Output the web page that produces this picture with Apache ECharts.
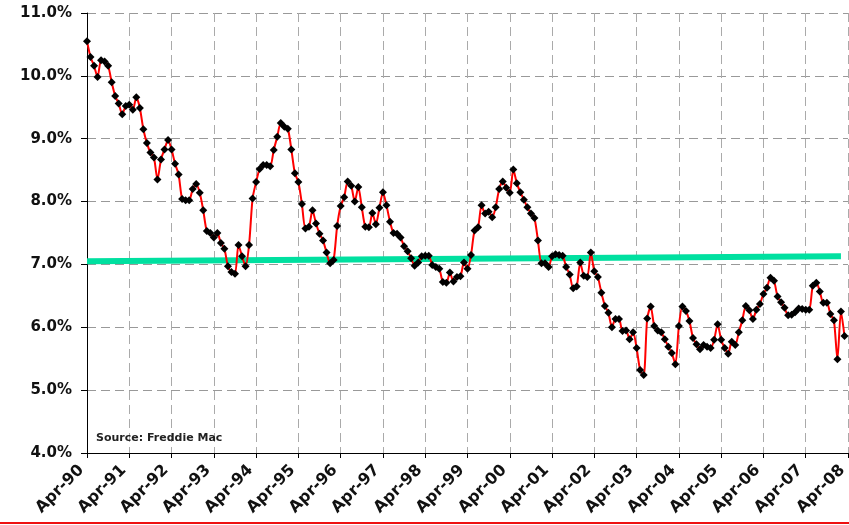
<!DOCTYPE html>
<html lang="en">
<head>
    <meta charset="UTF-8">
    <title>Mortgage rates</title>
    <script src="https://cdn.jsdelivr.net/npm/echarts@6/dist/echarts.min.js"></script>
</head>
<style type="text/css">
    html,body,#chart{
        width: 849px;
        height: 525px;
        margin: 0;
        padding: 0;
        background: #fff;
    }
</style>
<body>
<div id="chart"></div>
<script>
    // monthly rate, Apr-90 .. Mar-08 (%)
    var rates = [
        10.55, 10.30, 10.16, 9.98, 10.25, 10.23, 10.16, 9.90, 9.68, 9.56, 9.39, 9.52,
        9.54, 9.46, 9.66, 9.49, 9.15, 8.93, 8.78, 8.70, 8.35, 8.67, 8.83, 8.98,
        8.83, 8.60, 8.43, 8.04, 8.02, 8.02, 8.20, 8.28, 8.14, 7.86, 7.53, 7.50,
        7.43, 7.50, 7.34, 7.25, 6.97, 6.88, 6.85, 7.31, 7.13, 6.97, 7.31, 8.05,
        8.31, 8.52, 8.58, 8.58, 8.56, 8.82, 9.03, 9.25, 9.19, 9.16, 8.83, 8.45,
        8.31, 7.96, 7.57, 7.60, 7.86, 7.65, 7.49, 7.38, 7.19, 7.02, 7.07, 7.61,
        7.93, 8.07, 8.32, 8.25, 8.00, 8.23, 7.91, 7.60, 7.59, 7.82, 7.64, 7.90,
        8.15, 7.94, 7.68, 7.50, 7.49, 7.43, 7.29, 7.21, 7.10, 6.98, 7.03, 7.13,
        7.14, 7.14, 6.99, 6.96, 6.93, 6.72, 6.71, 6.87, 6.73, 6.80, 6.81, 7.03,
        6.93, 7.15, 7.54, 7.59, 7.94, 7.81, 7.84, 7.75, 7.91, 8.20, 8.32, 8.22,
        8.14, 8.51, 8.29, 8.15, 8.03, 7.91, 7.81, 7.74, 7.38, 7.02, 7.02, 6.96,
        7.13, 7.16, 7.15, 7.14, 6.96, 6.84, 6.62, 6.65, 7.03, 6.82, 6.80, 7.19,
        6.89, 6.80, 6.55, 6.34, 6.23, 6.00, 6.13, 6.13, 5.94, 5.95, 5.81, 5.92,
        5.67, 5.32, 5.24, 6.14, 6.33, 6.02, 5.95, 5.92, 5.81, 5.69, 5.59, 5.41,
        6.02, 6.33, 6.26, 6.10, 5.83, 5.73, 5.65, 5.72, 5.69, 5.67, 5.80, 6.05,
        5.80, 5.67, 5.58, 5.77, 5.72, 5.92, 6.11, 6.34, 6.27, 6.13, 6.28, 6.37,
        6.53, 6.63, 6.79, 6.74, 6.49, 6.40, 6.31, 6.19, 6.20, 6.24, 6.30, 6.29,
        6.28, 6.28, 6.66, 6.71, 6.57, 6.39, 6.39, 6.21, 6.11, 5.49, 6.25, 5.86
    ];
    // long-run average band: start / end value
    var avgStart = 7.05;
    var avgEnd = 7.13;
    var avgEndMonth = 'Feb-08';

    var monthNames = ['Jan','Feb','Mar','Apr','May','Jun','Jul','Aug','Sep','Oct','Nov','Dec'];
    var yTicks = [4, 5, 6, 7, 8, 9, 10, 11];

    // categories Apr-90 .. Apr-08
    var months = [];
    for (var i = 0; i <= 216; i++) {
        var m = (3 + i) % 12;
        var y = 90 + Math.floor((3 + i) / 12);
        months.push(monthNames[m] + '-' + String(y % 100).padStart(2, '0'));
    }

    var font = 'DejaVu Sans, Verdana, sans-serif';
    var myChart = echarts.init(document.getElementById('chart'));
    var options = {
        animation: false,
        backgroundColor: '#fff',
        grid: {left: 87, right: 1, top: 13, bottom: 72, containLabel: false, outerBoundsMode: 'none'},
        title: {
            text: 'Source: Freddie Mac',
            left: 91,
            top: 428,
            textStyle: {fontFamily: font, fontSize: 11, fontWeight: 'bold', color: '#222'}
        },
        graphic: [{
            type: 'line',
            shape: {x1: 0, y1: 523, x2: 849, y2: 523},
            style: {stroke: '#ee1111', lineWidth: 2}
        }],
        xAxis: {
            type: 'category',
            data: months,
            boundaryGap: false,
            axisLine: {lineStyle: {color: '#000', width: 1}},
            axisTick: {interval: 11, length: 5, lineStyle: {color: '#000'}},
            axisLabel: {
                interval: 11,
                rotate: 45,
                margin: 9,
                padding: [0, 8, 0, 0],
                fontFamily: font,
                fontSize: 16,
                fontWeight: 'bold',
                color: '#111'
            },
            splitLine: {
                show: true,
                interval: 11,
                lineStyle: {color: '#aaa', type: [9, 5], width: 1}
            }
        },
        yAxis: {
            type: 'value',
            min: yTicks[0],
            max: yTicks[yTicks.length - 1],
            interval: 1,
            axisLine: {show: true, lineStyle: {color: '#000', width: 1}},
            axisTick: {show: true, length: 6, lineStyle: {color: '#000'}},
            axisLabel: {
                margin: 15,
                fontFamily: font,
                fontSize: 15,
                fontWeight: 'bold',
                color: '#111',
                formatter: function (v) { return v.toFixed(1) + '%'; }
            },
            splitLine: {lineStyle: {color: '#999', type: [9, 5], width: 1}}
        },
        series: [{
            name: 'average',
            type: 'line',
            z: 1,
            symbol: 'none',
            lineStyle: {color: '#00e0a0', width: 6},
            data: [[months[0], avgStart], [avgEndMonth, avgEnd]]
        }, {
            name: 'rate',
            type: 'line',
            z: 3,
            smooth: 0.25,
            symbol: 'diamond',
            symbolSize: 8,
            showAllSymbol: true,
            itemStyle: {color: '#000'},
            lineStyle: {color: '#ff0000', width: 2},
            data: rates
        }]
    };
    myChart.setOption(options);
</script>
</body>
</html>
